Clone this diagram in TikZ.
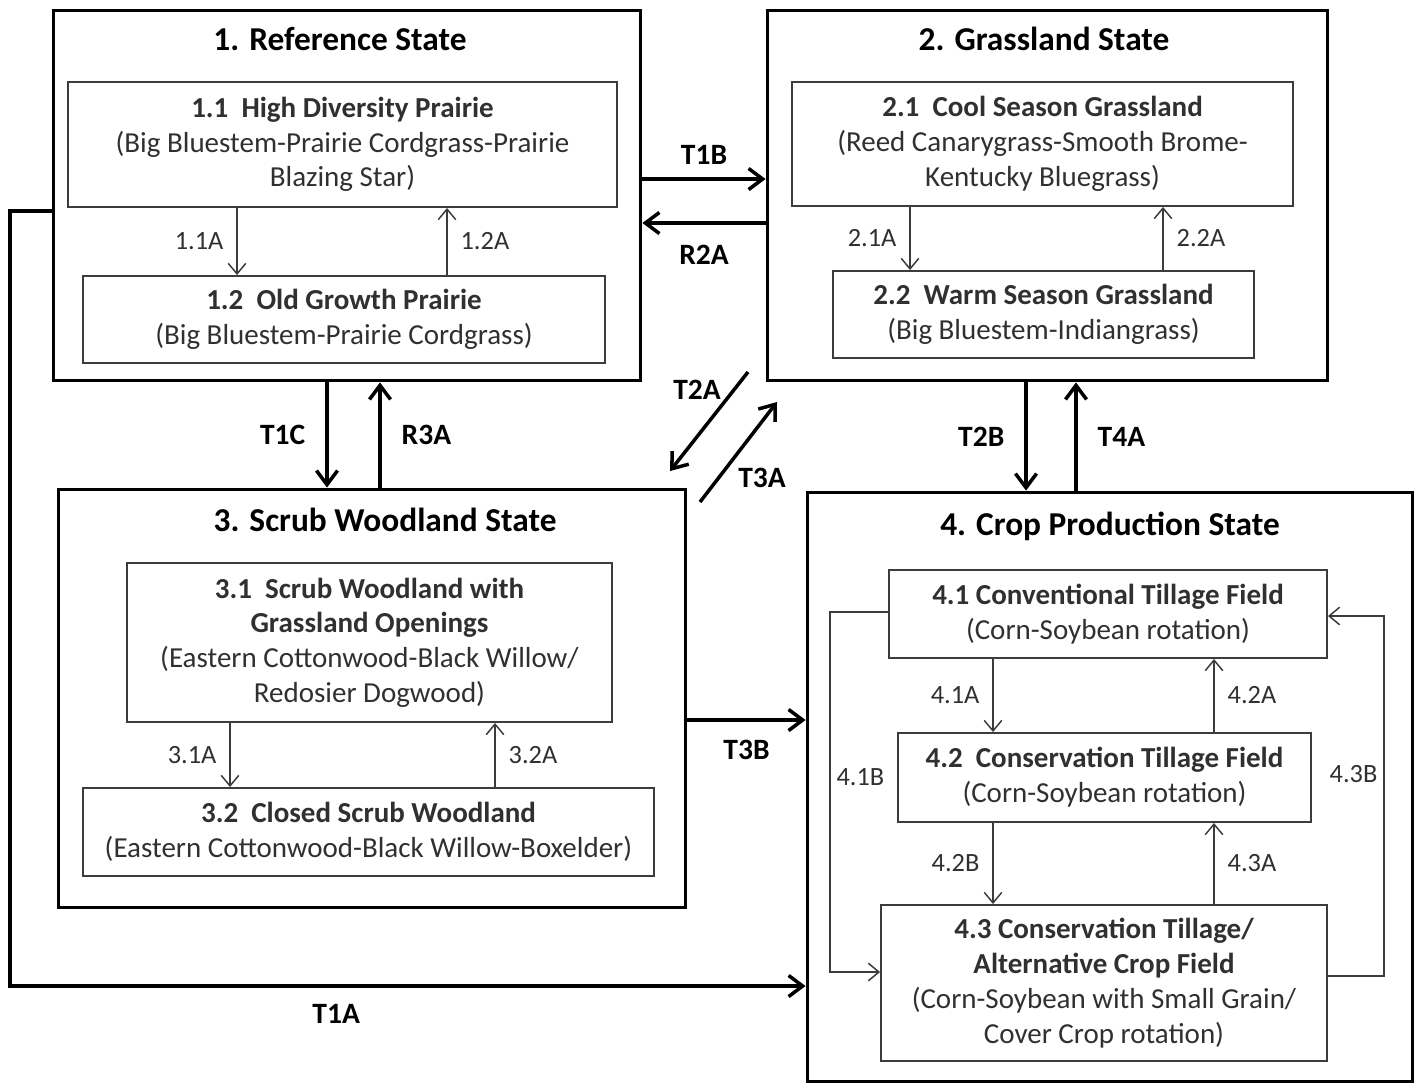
\documentclass[tikz,border=0pt]{standalone}
\usepackage{fontspec}
\setmainfont{Carlito}
\usetikzlibrary{arrows.meta}

\begin{document}
\begin{tikzpicture}[x=0.02cm, y=-0.02cm]

% -------------------------------------------------------
% Colours and styles
% -------------------------------------------------------
\definecolor{cbox}{HTML}{3C3C3C}
\definecolor{ctext}{HTML}{303030}

\tikzset{
  statebox/.style={draw=black, line width=1.7pt, rectangle, inner sep=0pt},
  phasebox/.style={draw=cbox, line width=1.1pt, rectangle, align=center, text=ctext,
                   font=\fontsize{16.5}{19.8}\selectfont, inner sep=0pt},
  statetitle/.style={font=\fontsize{19}{22}\selectfont\bfseries},
  bigarrow/.style={line width=2pt, -{Straight Barb[length=8pt,width=12pt]}},
  smallarrow/.style={draw=cbox, line width=0.85pt, -{Straight Barb[length=6pt,width=10pt]}},
  biglabel/.style={font=\fontsize{16.8}{19}\selectfont\bfseries},
  smalllabel/.style={font=\fontsize{15}{17}\selectfont, text=ctext},
}

\useasboundingbox (0,0) rectangle (1422,1086);

%%%%%% STATE BOXES
\node[statebox, minimum width=11.76cm, minimum height=7.42cm] (s1) at (347,195.5) {};
\node[statebox, minimum width=11.22cm, minimum height=7.42cm] (s2) at (1047.5,195.5) {};
\node[statebox, minimum width=12.56cm, minimum height=8.38cm] (s3) at (372,698.5) {};
\node[statebox, minimum width=12.12cm, minimum height=11.8cm] (s4) at (1110,787) {};

\node[statetitle] (t1) at (340,39) {1. Reference State};
\node[statetitle] (t2) at (1044,39) {2. Grassland State};
\node[statetitle] (t3) at (385,520) {3. Scrub Woodland State};
\node[statetitle] (t4) at (1110,526) {4. Crop Production State};

%%%%%% COMMUNITY PHASES
% state 1
\node[phasebox, minimum width=10.98cm, minimum height=2.5cm] (b11) at (342.5,144.5)
  {{\bfseries 1.1\ \ High Diversity Prairie}\\(Big Bluestem-Prairie Cordgrass-Prairie\\Blazing Star)};
\node[phasebox, minimum width=10.44cm, minimum height=1.74cm] (b12) at (344,319.5)
  {{\bfseries 1.2\ \ Old Growth Prairie}\\(Big Bluestem-Prairie Cordgrass)};

% state 2
\node[phasebox, minimum width=10.02cm, minimum height=2.48cm] (b21) at (1042.5,144)
  {{\bfseries 2.1\ \ Cool Season Grassland}\\(Reed Canarygrass-Smooth Brome-\\Kentucky Bluegrass)};
\node[phasebox, minimum width=8.42cm, minimum height=1.74cm] (b22) at (1043.5,314.5)
  {{\bfseries 2.2\ \ Warm Season Grassland}\\(Big Bluestem-Indiangrass)};

% state 3
\node[phasebox, minimum width=9.7cm, minimum height=3.18cm] (b31) at (369.5,642.5)
  {{\bfseries 3.1\ \ Scrub Woodland with}\\{\bfseries Grassland Openings}\\(Eastern Cottonwood-Black Willow/\\Redosier Dogwood)};
\node[phasebox, minimum width=11.42cm, minimum height=1.76cm] (b32) at (368.5,832)
  {{\bfseries 3.2\ \ Closed Scrub Woodland}\\(Eastern Cottonwood-Black Willow-Boxelder)};

% state 4
\node[phasebox, minimum width=8.76cm, minimum height=1.76cm] (b41) at (1108,614)
  {{\bfseries 4.1 Conventional Tillage Field}\\(Corn-Soybean rotation)};
\node[phasebox, minimum width=8.26cm, minimum height=1.78cm] (b42) at (1104.5,777.5)
  {{\bfseries 4.2\ \ Conservation Tillage Field}\\(Corn-Soybean rotation)};
\node[phasebox, minimum width=8.92cm, minimum height=3.12cm] (b43) at (1104,983)
  {{\bfseries 4.3 Conservation Tillage/}\\{\bfseries Alternative Crop Field}\\(Corn-Soybean with Small Grain/\\Cover Crop rotation)};

%%%%%% PATHWAYS WITHIN STATES
\draw[smallarrow] (b11.south -| 237,0) -- (b12.north -| 237,0) node[midway, left=4pt, smalllabel] {1.1A};
\draw[smallarrow] (b12.north -| 447,0) -- (b11.south -| 447,0) node[midway, right=4pt, smalllabel] {1.2A};

\draw[smallarrow] (b21.south -| 910,0) -- (b22.north -| 910,0) node[midway, left=4pt, smalllabel] {2.1A};
\draw[smallarrow] (b22.north -| 1163,0) -- (b21.south -| 1163,0) node[midway, right=4pt, smalllabel] {2.2A};

\draw[smallarrow] (b31.south -| 230,0) -- (b32.north -| 230,0) node[midway, left=4pt, smalllabel] {3.1A};
\draw[smallarrow] (b32.north -| 495,0) -- (b31.south -| 495,0) node[midway, right=4pt, smalllabel] {3.2A};

\draw[smallarrow] (b41.south -| 993,0) -- (b42.north -| 993,0) node[midway, left=4pt, smalllabel] {4.1A};
\draw[smallarrow] (b42.north -| 1214,0) -- (b41.south -| 1214,0) node[midway, right=4pt, smalllabel] {4.2A};
\draw[smallarrow] (b42.south -| 993,0) -- (b43.north -| 993,0) node[midway, left=4pt, smalllabel] {4.2B};
\draw[smallarrow] (b43.north -| 1214,0) -- (b42.south -| 1214,0) node[midway, right=4pt, smalllabel] {4.3A};

\draw[smallarrow] (b41.west |- 0,612) -| (830,972) node[pos=0.73, right=0pt, smalllabel] {4.1B} -- (b43.west |- 0,972);
\draw[smallarrow] (b43.east |- 0,976) -| (1384,616) node[pos=0.78, left=0pt, smalllabel] {4.3B} -- (b41.east |- 0,616);

%%%%%% TRANSITIONS BETWEEN STATES
\draw[bigarrow] (s1.east |- 0,179) -- (s2.west |- 0,179) node[midway, above=4pt, biglabel] {T1B};
\draw[bigarrow] (s2.west |- 0,223) -- (s1.east |- 0,223) node[midway, below=8pt, biglabel] {R2A};

\draw[bigarrow] (s1.south -| 327,0) -- (s3.north -| 327,0) node[midway, left=8pt, biglabel] {T1C};
\draw[bigarrow] (s3.north -| 380,0) -- (s1.south -| 380,0) node[midway, right=8pt, biglabel] {R3A};

\draw[bigarrow] (s2.south -| 1026,0) -- (s4.north -| 1026,0) node[midway, left=8pt, biglabel] {T2B};
\draw[bigarrow] (s4.north -| 1076,0) -- (s2.south -| 1076,0) node[midway, right=8pt, biglabel] {T4A};

\draw[bigarrow] (s3.east |- 0,720) -- (s4.west |- 0,720) node[midway, below=7pt, biglabel] {T3B};

% diagonal pair between grassland and scrub woodland
\coordinate (t2a0) at (748,372);
\coordinate (t2a1) at (670,471);
\coordinate (t3a0) at (700,502);
\coordinate (t3a1) at (777,402);
\draw[bigarrow] (t2a0) -- (t2a1);
\draw[bigarrow] (t3a0) -- (t3a1);
\node[biglabel] (lt2a) at (697,390) {T2A};
\node[biglabel] (lt3a) at (762,478) {T3A};

% long way round from reference to crop production
\draw[bigarrow] (s1.west |- 0,211) -| (10,986) -- node[pos=0.41, below=6pt, biglabel] {T1A} (s4.west |- 0,986);

\end{tikzpicture}
\end{document}
